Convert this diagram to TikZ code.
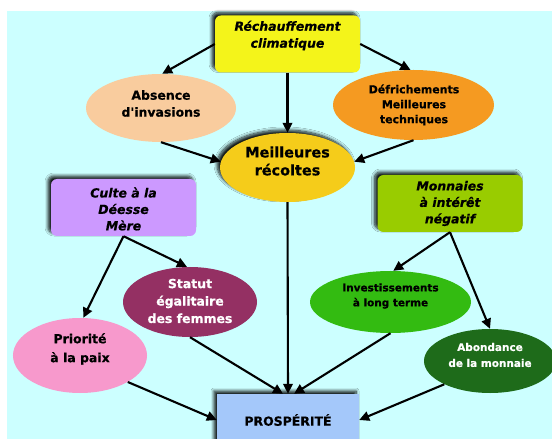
\documentclass[tikz,border=0pt]{standalone}
\usepackage{fontspec}
\setmainfont{DejaVu Sans}[Ligatures=TeXOff, BoldFeatures={FakeBold=0.6}, BoldItalicFeatures={FakeBold=0.6}]
\usetikzlibrary{shapes.geometric,arrows.meta,shadows.blur}
\definecolor{cBg}{HTML}{CCFFFF}
\definecolor{cYel}{HTML}{F4F41A}
\definecolor{cPeach}{HTML}{F9CC9E}
\definecolor{cOrange}{HTML}{F59A21}
\definecolor{cGold}{HTML}{F5CC1A}
\definecolor{cLilac}{HTML}{CC99FF}
\definecolor{cLime}{HTML}{99CC00}
\definecolor{cPlum}{HTML}{943063}
\definecolor{cGreen}{HTML}{33BB11}
\definecolor{cPink}{HTML}{F799CC}
\definecolor{cDkGreen}{HTML}{1E6B1A}
\definecolor{cBlue}{HTML}{A4C8FA}
\tikzset{
  sh/.style={blur shadow={shadow xshift=-3bp, shadow yshift=3bp, shadow blur radius=3bp, shadow blur steps=8, shadow opacity=90}},
  box/.style={sh, rounded corners=6bp, minimum width=145bp, minimum height=57bp, inner sep=0pt},
  oval/.style={ellipse, inner sep=0pt},
  lbl/.style={align=center, inner sep=0pt, font=\bfseries\fontsize{12.5}{17}\selectfont},
  arr/.style={line width=2.1bp, -{Triangle[length=10bp,width=9.5bp]}},
}
\begin{document}
\begin{tikzpicture}[x=1bp,y=-1bp]
\useasboundingbox (0,0) rectangle (552,439);
\fill[cBg] (7,11) rectangle (552,439);

% shapes
\node[box, fill=cYel] (rech) at (287.5,44) {};
\node[oval, fill=cPeach, minimum width=150bp, minimum height=68bp] (abs) at (161,108) {};
\node[oval, fill=cOrange, minimum width=161bp, minimum height=70bp] (def) at (413.5,105) {};
\node[oval, sh, fill=cGold, minimum width=135bp, minimum height=69bp] (meil) at (287.5,167.5) {};
\node[box, fill=cLilac] (culte) at (123.5,207.5) {};
\node[box, fill=cLime] (monn) at (450,203.5) {};
\node[oval, fill=cPlum, minimum width=134bp, minimum height=70bp] (stat) at (190,302) {};
\node[oval, fill=cGreen, minimum width=161bp, minimum height=62bp] (inv) at (390.5,302) {};
\node[oval, fill=cPink, minimum width=134bp, minimum height=75bp] (prio) at (80,355.5) {};
\node[oval, fill=cDkGreen, minimum width=132bp, minimum height=64bp] (abond) at (490,361) {};
\node[sh, fill=cBlue, minimum width=142bp, minimum height=52bp, inner sep=0pt] (prosp) at (288,420) {};

% texts
\node[lbl] (rechT) at (287.5,35.5) {\itshape Réchauffement\\\itshape climatique};
\node[lbl] (absT) at (161,103.5) {Absence\\d'invasions};
\node[lbl, font=\bfseries\fontsize{11}{15}\selectfont] (defT) at (414,105) {Défrichements\\Meilleures\\techniques};
\node[lbl, font=\bfseries\fontsize{14.5}{18}\selectfont] (meilT) at (287.5,161) {Meilleures\\récoltes};
\node[lbl, font=\bfseries\itshape\fontsize{12.5}{16.5}\selectfont] (culteT) at (123.5,209) {Culte à la\\Déesse\\Mère};
\node[lbl, font=\bfseries\itshape\fontsize{12.5}{16.5}\selectfont] (monnT) at (450,203.5) {Monnaies\\à intérêt\\négatif};
\node[lbl, text=white, font=\bfseries\fontsize{12.5}{17.5}\selectfont] (statT) at (190,301) {Statut\\égalitaire\\des femmes};
\node[lbl, font=\bfseries\fontsize{10.5}{15}\selectfont] (invT) at (390.5,296) {Investissements\\à long terme};
\node[lbl, font=\bfseries\fontsize{12.5}{19}\selectfont] (prioT) at (80,349) {Priorité\\à la paix};
\node[lbl, text=white, font=\bfseries\fontsize{10.5}{16}\selectfont] (abondT) at (490,355) {Abondance\\de la monnaie};
\node[lbl, font=\bfseries\fontsize{12.5}{15}\selectfont] (prospT) at (288,420) {PROSPÉRITÉ};

% connectors
\draw[arr] (rech.west) -- (abs.88);
\draw[arr] (rech.east) -- (def.95);
\draw[arr] (rech.south) -- (meil.north);
\draw[arr] (abs.south) -- (meil.175);
\draw[arr] (def.south) -- (meil.5);
\draw[arr] (culte.south) -- (stat.95);
\draw[arr] (culte.south) -- (prio.85);
\draw[arr] (monn.south) -- (inv.85);
\draw[arr] (monn.south) -- (abond.north);
\draw[arr] (meil.south) -- (prosp.north);
\draw[arr] (stat.south) -- ([xshift=-5bp]prosp.north);
\draw[arr] (inv.south) -- ([xshift=6bp]prosp.north);
\draw[arr] (prio.-29) -- (prosp.west);
\draw[arr] (abond.207) -- (prosp.east);
\end{tikzpicture}
\end{document}
